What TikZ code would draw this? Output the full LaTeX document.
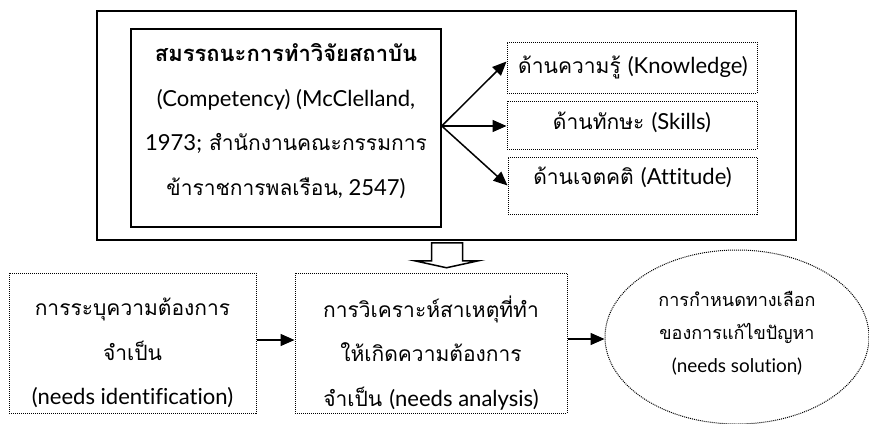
\documentclass[tikz,border=0pt]{standalone}
\usepackage{fontspec}
\setmainfont{Loma}[Script=Thai]
\newfontfamily\latf{Lato}[Ligatures=NoCommon,Scale=1.05]
\newcommand\latn[1]{{\latf #1}}
\usetikzlibrary{arrows.meta,shapes.geometric}
\begin{document}
\begin{tikzpicture}[x=1pt,y=-1pt,
  solidbox/.style={draw,line width=1.5pt,rectangle,inner sep=0pt},
  dotbox/.style={draw,line width=1pt,dash pattern=on 1pt off 1pt,rectangle,inner sep=0pt},
  txt/.style={align=center,inner sep=0pt},
  bigtext/.style={font=\fontsize{21}{44.5}\selectfont},
  smalltext/.style={font=\fontsize{18}{33}\selectfont},
  conn/.style={line width=1.5pt,-{Triangle[length=14pt,width=12pt]}}]
\useasboundingbox (0,0) rectangle (869,423);
% outer frame
\node[solidbox,minimum width=699pt,minimum height=229pt] (outer) at (446.5,125.5) {};
% competency box
\node[solidbox,minimum width=310pt,minimum height=198pt] (comp) at (286,128) {};
\node[txt,bigtext] (comptext) at ([yshift=7pt]comp.center)
  {{\fontsize{22}{44.5}\selectfont\bfseries สมรรถนะการทำวิจัยสถาบัน}\\\latn{(Competency) (McClelland,}\\\latn{1973;} สำนักงานคณะกรรมการ\\ข้าราชการพลเรือน\latn{, 2547)}};
% right boxes
\node[dotbox,minimum width=250pt,minimum height=51pt] (know) at (632,67.5) {};
\node[dotbox,minimum width=250pt,minimum height=48pt] (skill) at (632,125) {};
\node[dotbox,minimum width=249pt,minimum height=57pt] (att) at (632.5,185.5) {};
\node[txt,bigtext] (knowtext) at ([xshift=1pt]know.center) {ด้านความรู้ \latn{(Knowledge)}};
\node[txt,bigtext] (skilltext) at ([yshift=3pt]skill.center) {ด้านทักษะ \latn{(Skills)}};
\node[txt,bigtext] (atttext) at ([yshift=8pt]att.center) {ด้านเจตคติ \latn{(Attitude)}};
\coordinate (fan) at ([yshift=2pt]comp.east);
\draw[conn] (fan) -- ([yshift=6pt]know.west);
\draw[conn] (fan) -- (fan -| skill.west);
\draw[conn] (fan) -- (att.west);
% block arrow
\draw[line width=1.5pt,fill=white,line join=miter]
  ([xshift=-15pt,yshift=-2pt]outer.south) -- ([xshift=16pt,yshift=-2pt]outer.south)
  -- ([xshift=16pt,yshift=-20pt]outer.south) -- ([xshift=32pt,yshift=-20pt]outer.south)
  -- ([xshift=0pt,yshift=-27pt]outer.south) -- ([xshift=-32pt,yshift=-20pt]outer.south)
  -- ([xshift=-15pt,yshift=-20pt]outer.south) -- cycle;
% bottom row
\node[dotbox,minimum width=247pt,minimum height=140pt] (ident) at (132.5,343) {};
\node[txt,bigtext] (identtext) at ([yshift=-10pt]ident.center)
  {การระบุความต้องการ\\จำเป็น\\\latn{(needs identification)}};
\node[dotbox,minimum width=272pt,minimum height=140pt] (anal) at (431,343) {};
\node[txt,bigtext] (analtext) at ([yshift=-10pt]anal.center)
  {การวิเคราะห์สาเหตุที่ทำ\\ให้เกิดความต้องการ\\จำเป็น \latn{(needs analysis)}};
\node[draw,ellipse,line width=1pt,dash pattern=on 1pt off 1pt,inner sep=0pt,
  minimum width=264pt,minimum height=174pt] (sol) at (737,337) {};
\node[txt,smalltext] (soltext) at ([yshift=4pt]sol.center)
  {การกำหนดทางเลือก\\ของการแก้ไขปัญหา\\\latn{(needs solution)}};
\draw[conn] ([yshift=3pt]ident.east) -- ([yshift=3pt]anal.west);
\draw[conn] ([yshift=4pt]anal.east) -- ([yshift=4pt]anal.east -| sol.west);
\end{tikzpicture}
\end{document}
